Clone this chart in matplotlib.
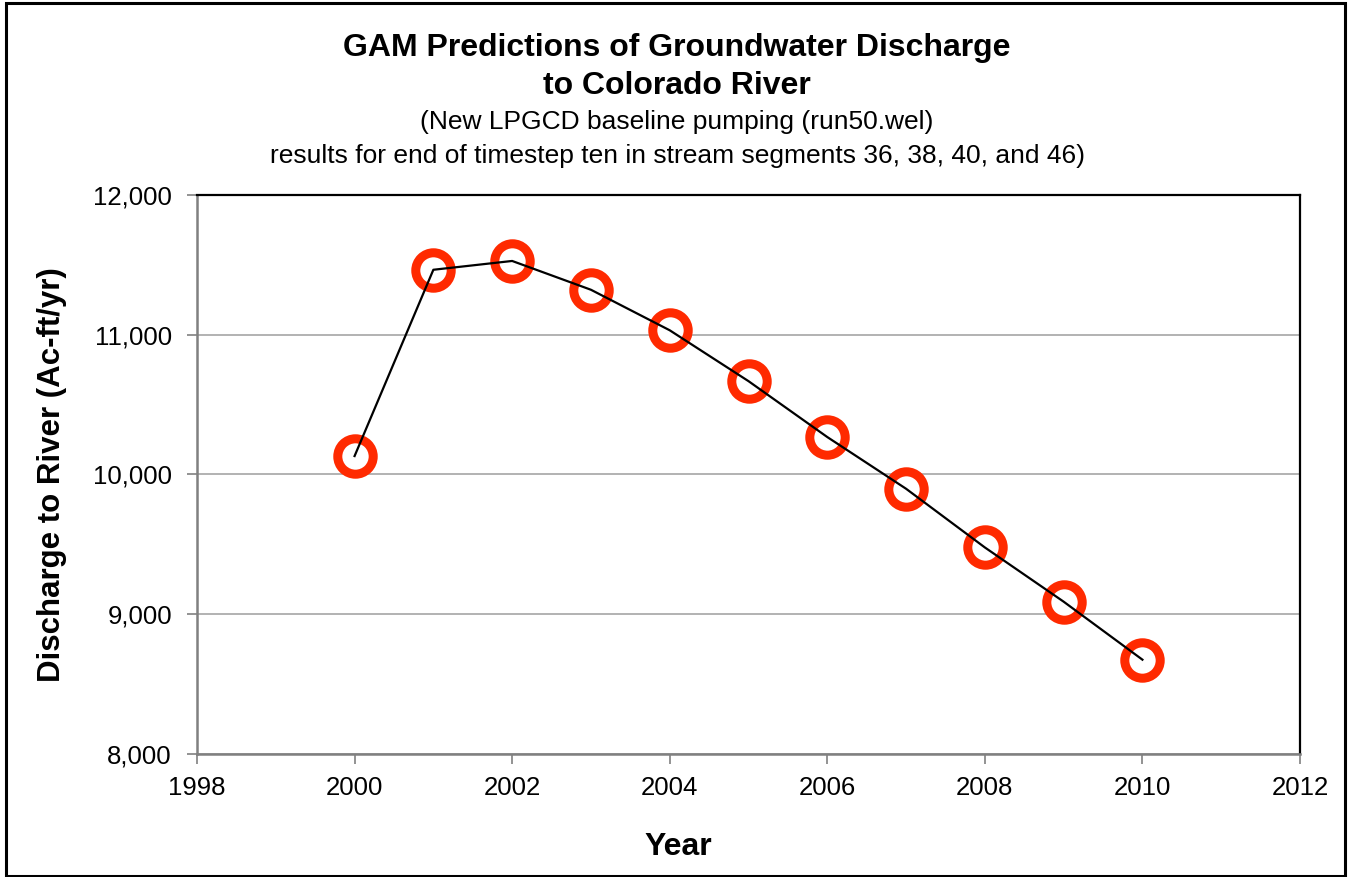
import matplotlib
matplotlib.use("Agg")
import matplotlib.pyplot as plt
from matplotlib.ticker import FuncFormatter, MultipleLocator
from matplotlib.patches import Rectangle

plt.rcParams['font.family'] = ['Liberation Sans', 'DejaVu Sans']

years = [2000, 2001, 2002, 2003, 2004, 2005, 2006, 2007, 2008, 2009, 2010]
discharge = [10132, 11465, 11528, 11322, 11032, 10668, 10268, 9898, 9478, 9090, 8675]

W, H = 1348, 877
fig = plt.figure(figsize=(W / 100, H / 100), dpi=100)
ax = fig.add_axes([197 / W, 1 - 754 / H, (1300 - 197) / W, (754 - 195) / H])

ax.plot(years, discharge, color='black', lw=1.6, zorder=4)
ax.plot(years, discharge, ls='none', marker='o', ms=25.5, mfc='white',
        mec='#ff2a00', mew=6.5, zorder=3, clip_on=False)

ax.set_xlim(1998, 2012)
ax.set_ylim(8000, 12000)
ax.xaxis.set_major_locator(MultipleLocator(2))
ax.yaxis.set_major_locator(MultipleLocator(1000))
ax.yaxis.set_major_formatter(FuncFormatter(lambda v, p: f'{int(v):,}'))
ax.grid(axis='y', color='#a6a6a6', lw=1.2, zorder=0)

for s in ['left', 'bottom']:
    ax.spines[s].set_color('#808080')
    ax.spines[s].set_linewidth(1.8)
for s in ['top', 'right']:
    ax.spines[s].set_color('black')
    ax.spines[s].set_linewidth(1.6)
ax.tick_params(axis='both', direction='out', color='#808080', length=7, width=1.2,
               labelsize=18.5)
ax.tick_params(axis='y', pad=11)
ax.tick_params(axis='x', pad=9)

# axis titles sit relative to the whole figure, not the plot area
fig.text(678 / W, 1 - 847 / H, 'Year', ha='center', va='center',
         fontsize=23, fontweight='bold')
fig.text(52 / W, 1 - 475 / H, 'Discharge to River (Ac-ft/yr)', ha='center', va='center',
         rotation=90, fontsize=22.5, fontweight='bold')

fig.text(677 / W, 1 - 48 / H, 'GAM Predictions of Groundwater Discharge',
         ha='center', va='center', fontsize=23, fontweight='bold')
fig.text(677 / W, 1 - 86 / H, 'to Colorado River',
         ha='center', va='center', fontsize=23, fontweight='bold')
fig.text(677 / W, 1 - 122 / H, '(New LPGCD baseline pumping (run50.wel)',
         ha='center', va='center', fontsize=19)
fig.text(677 / W, 1 - 156 / H,
         'results for end of timestep ten in stream segments 36, 38, 40, and 46)',
         ha='center', va='center', fontsize=19)

fig.patches.append(Rectangle((6 / W, 1 / H), 1339 / W, 873 / H, transform=fig.transFigure,
                             fill=False, edgecolor='black', lw=2.2))

fig.savefig('out.png', dpi=100)
